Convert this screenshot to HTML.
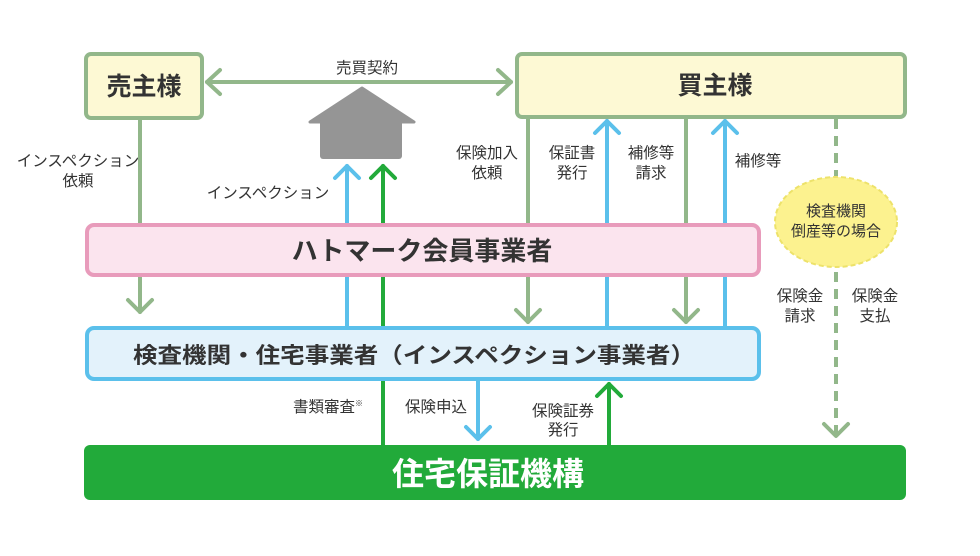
<!DOCTYPE html>
<html><head><meta charset="utf-8"><style>
body{margin:0;background:#fff;}
svg text{font-family:"Liberation Sans","Noto Sans CJK JP",sans-serif;fill:#333;}
</style></head><body>
<svg width="980" height="551" viewBox="0 0 980 551" xmlns="http://www.w3.org/2000/svg">
<g fill="none" stroke-width="4" stroke-linecap="round" stroke-linejoin="round">
<line x1="207" y1="82" x2="511" y2="82" stroke="#92b78a"/>
<polyline points="220,70 207,82 220,94" stroke="#92b78a"/>
<polyline points="498,70 511,82 498,94" stroke="#92b78a"/>
<line x1="140" y1="119" x2="140" y2="312" stroke="#92b78a"/>
<polyline points="128,300 140,312 152,300" stroke="#92b78a"/>
<line x1="347" y1="327" x2="347" y2="166" stroke="#5bc0eb"/>
<polyline points="335,178 347,166 359,178" stroke="#5bc0eb"/>
<line x1="383" y1="445" x2="383" y2="166" stroke="#22aa3a"/>
<polyline points="371,178 383,166 395,178" stroke="#22aa3a"/>
<line x1="528" y1="117" x2="528" y2="322" stroke="#92b78a"/>
<polyline points="516,310 528,322 540,310" stroke="#92b78a"/>
<line x1="607" y1="327" x2="607" y2="121" stroke="#5bc0eb"/>
<polyline points="595,133 607,121 619,133" stroke="#5bc0eb"/>
<line x1="686" y1="117" x2="686" y2="322" stroke="#92b78a"/>
<polyline points="674,310 686,322 698,310" stroke="#92b78a"/>
<line x1="725" y1="327" x2="725" y2="121" stroke="#5bc0eb"/>
<polyline points="713,133 725,121 737,133" stroke="#5bc0eb"/>
<line x1="836" y1="119" x2="836" y2="436" stroke="#92b78a" stroke-dasharray="10,7" stroke-linecap="butt"/>
<polyline points="824,424 836,436 848,424" stroke="#92b78a"/>
<line x1="478" y1="380" x2="478" y2="439" stroke="#5bc0eb"/>
<polyline points="466,427 478,439 490,427" stroke="#5bc0eb"/>
<line x1="609" y1="445" x2="609" y2="384" stroke="#22aa3a"/>
<polyline points="597,396 609,384 621,396" stroke="#22aa3a"/>
</g>
<polygon points="310,122 362,88 414,122" fill="#959595" stroke="#959595" stroke-width="3" stroke-linejoin="round"/>
<rect x="320" y="118" width="82" height="41" rx="3" fill="#959595"/>
<rect x="86" y="54" width="116" height="64" rx="5" fill="#fdf9d4" stroke="#92b78a" stroke-width="4"/>
<text x="144" y="95" font-size="25" font-weight="bold" text-anchor="middle">売主様</text>
<rect x="517" y="54" width="388" height="63" rx="5" fill="#fdf9d4" stroke="#92b78a" stroke-width="4"/>
<text x="715" y="94" font-size="25" font-weight="bold" text-anchor="middle">買主様</text>
<rect x="87" y="225" width="672" height="50" rx="7" fill="#fbe4ee" stroke="#e89bbb" stroke-width="4"/>
<text x="422" y="260" font-size="26" font-weight="bold" text-anchor="middle">ハトマーク会員事業者</text>
<rect x="87" y="328" width="672" height="51" rx="7" fill="#e3f2fb" stroke="#5bc0eb" stroke-width="4"/>
<text x="133" y="363" font-size="22" font-weight="bold" textLength="562" lengthAdjust="spacingAndGlyphs">検査機関・住宅事業者（インスペクション事業者）</text>
<rect x="84" y="445" width="822" height="55" rx="6" fill="#22aa3a"/>
<text x="488" y="485" font-size="32" font-weight="bold" text-anchor="middle" style="fill:#fff">住宅保証機構</text>
<ellipse cx="836" cy="222" rx="61" ry="45" fill="#fcf28f" stroke="#ede26a" stroke-width="2" stroke-dasharray="5,3"/>
<text x="836" y="216" font-size="15" text-anchor="middle">検査機関</text>
<text x="836" y="236" font-size="15" text-anchor="middle">倒産等の場合</text>
<g font-size="15.5" text-anchor="middle">
<text x="367" y="73">売買契約</text>
<text x="78" y="166">インスペクション</text>
<text x="78" y="186">依頼</text>
<text x="268" y="198">インスペクション</text>
<text x="487" y="158">保険加入</text>
<text x="487" y="178">依頼</text>
<text x="572" y="158">保証書</text>
<text x="572" y="178">発行</text>
<text x="651" y="158">補修等</text>
<text x="651" y="178">請求</text>
<text x="758" y="166">補修等</text>
<text x="800" y="301">保険金</text>
<text x="800" y="321">請求</text>
<text x="875" y="301">保険金</text>
<text x="875" y="321">支払</text>
<text x="328" y="412">書類審査<tspan font-size="8" dy="-6">※</tspan></text>
<text x="436" y="412">保険申込</text>
<text x="563" y="416">保険証券</text>
<text x="563" y="435">発行</text>
</g>
</svg>
</body></html>
